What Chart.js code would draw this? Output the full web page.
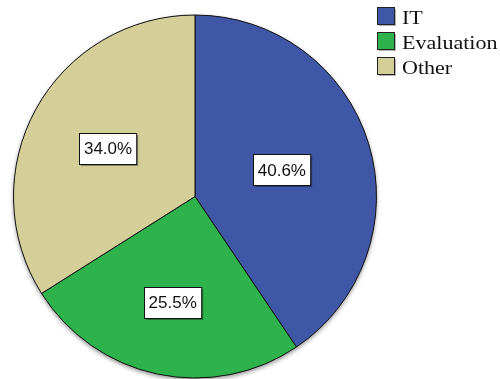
<!DOCTYPE html>
<html>
<head>
<meta charset="utf-8">
<script src="https://cdn.jsdelivr.net/npm/chart.js@4/dist/chart.umd.min.js"></script>
<style>
  html, body { margin: 0; padding: 0; background: #fff; }
  #wrap { width: 500px; height: 379px; position: relative; }
</style>
</head>
<body>
<div id="wrap"><canvas id="c" width="500" height="379"></canvas></div>
<script>
// Share of responses by category (percent)
const categories = ['IT', 'Evaluation', 'Other'];
const shares = [40.6, 25.5, 34.0];
const sliceColors = ['#4057A7', '#2EB24B', '#D4CE98'];

// Percent labels in white boxes, placed at each slice's centroid
const sliceLabels = {
  id: 'sliceLabels',
  afterDatasetsDraw(chart) {
    const ctx = chart.ctx;
    const meta = chart.getDatasetMeta(0);
    ctx.save();
    ctx.font = '17px "Liberation Sans", Arial, sans-serif';
    ctx.textAlign = 'center';
    ctx.textBaseline = 'middle';
    meta.data.forEach((arc, i) => {
      const p = arc.getProps(['x', 'y', 'startAngle', 'endAngle', 'outerRadius'], true);
      const half = (p.endAngle - p.startAngle) / 2;
      const mid = p.startAngle + half;
      const d = (2 * p.outerRadius * Math.sin(half)) / (3 * half);
      const cx = p.x + Math.cos(mid) * d;
      const cy = p.y + Math.sin(mid) * d;
      const text = shares[i].toFixed(1) + '%';
      const w = ctx.measureText(text).width + 9;
      const h = 31;
      const x0 = Math.round(cx - w / 2) + 0.5;
      const y0 = Math.round(cy - h / 2) + 0.5;
      ctx.fillStyle = 'rgba(0,0,0,0.35)';
      ctx.fillRect(x0 + 1.5, y0 + 1.5, w, h);
      ctx.fillStyle = '#fff';
      ctx.fillRect(x0, y0, w, h);
      ctx.strokeStyle = '#111';
      ctx.lineWidth = 1;
      ctx.strokeRect(x0, y0, w, h);
      ctx.fillStyle = '#111';
      ctx.fillText(text, cx, cy + 1);
    });
    ctx.restore();
  }
};

// Soft drop shadow under the whole pie
const pieShadow = {
  id: 'pieShadow',
  beforeDatasetsDraw(chart) {
    const arc = chart.getDatasetMeta(0).data[0];
    if (!arc) return;
    const ctx = chart.ctx;
    ctx.save();
    ctx.shadowColor = 'rgba(0,0,0,0.45)';
    ctx.shadowBlur = 4;
    ctx.shadowOffsetY = 2;
    ctx.beginPath();
    ctx.arc(arc.x, arc.y, arc.outerRadius, 0, Math.PI * 2);
    ctx.fillStyle = '#888';
    ctx.fill();
    ctx.restore();
  }
};

// Legend in the top-right corner
const cornerLegend = {
  id: 'cornerLegend',
  afterDraw(chart) {
    const ctx = chart.ctx;
    ctx.save();
    ctx.font = '19px "Liberation Serif", "Times New Roman", serif';
    ctx.textBaseline = 'alphabetic';
    categories.forEach((name, i) => {
      const bx = 377.5, by = 7.5 + i * 25;
      ctx.fillStyle = 'rgba(0,0,0,0.3)';
      ctx.fillRect(bx + 1.5, by + 1.5, 17, 17);
      ctx.fillStyle = sliceColors[i];
      ctx.fillRect(bx, by, 17, 17);
      ctx.strokeStyle = '#222';
      ctx.lineWidth = 1;
      ctx.strokeRect(bx, by, 17, 17);
      ctx.save();
      ctx.translate(402, by + 16);
      ctx.scale(1.16, 1);
      ctx.fillStyle = '#111';
      ctx.fillText(name, 0, 0);
      ctx.restore();
    });
    ctx.restore();
  }
};

new Chart(document.getElementById('c'), {
  type: 'pie',
  data: {
    labels: categories,
    datasets: [{
      data: shares,
      backgroundColor: sliceColors,
      borderColor: '#111',
      borderWidth: 1,
      hoverOffset: 0
    }]
  },
  options: {
    responsive: false,
    animation: false,
    rotation: 0,
    layout: { padding: { left: 13, right: 123, top: 14, bottom: 0 } },
    plugins: {
      legend: { display: false },
      tooltip: { enabled: false }
    }
  },
  plugins: [pieShadow, sliceLabels, cornerLegend]
});
</script>
</body>
</html>
